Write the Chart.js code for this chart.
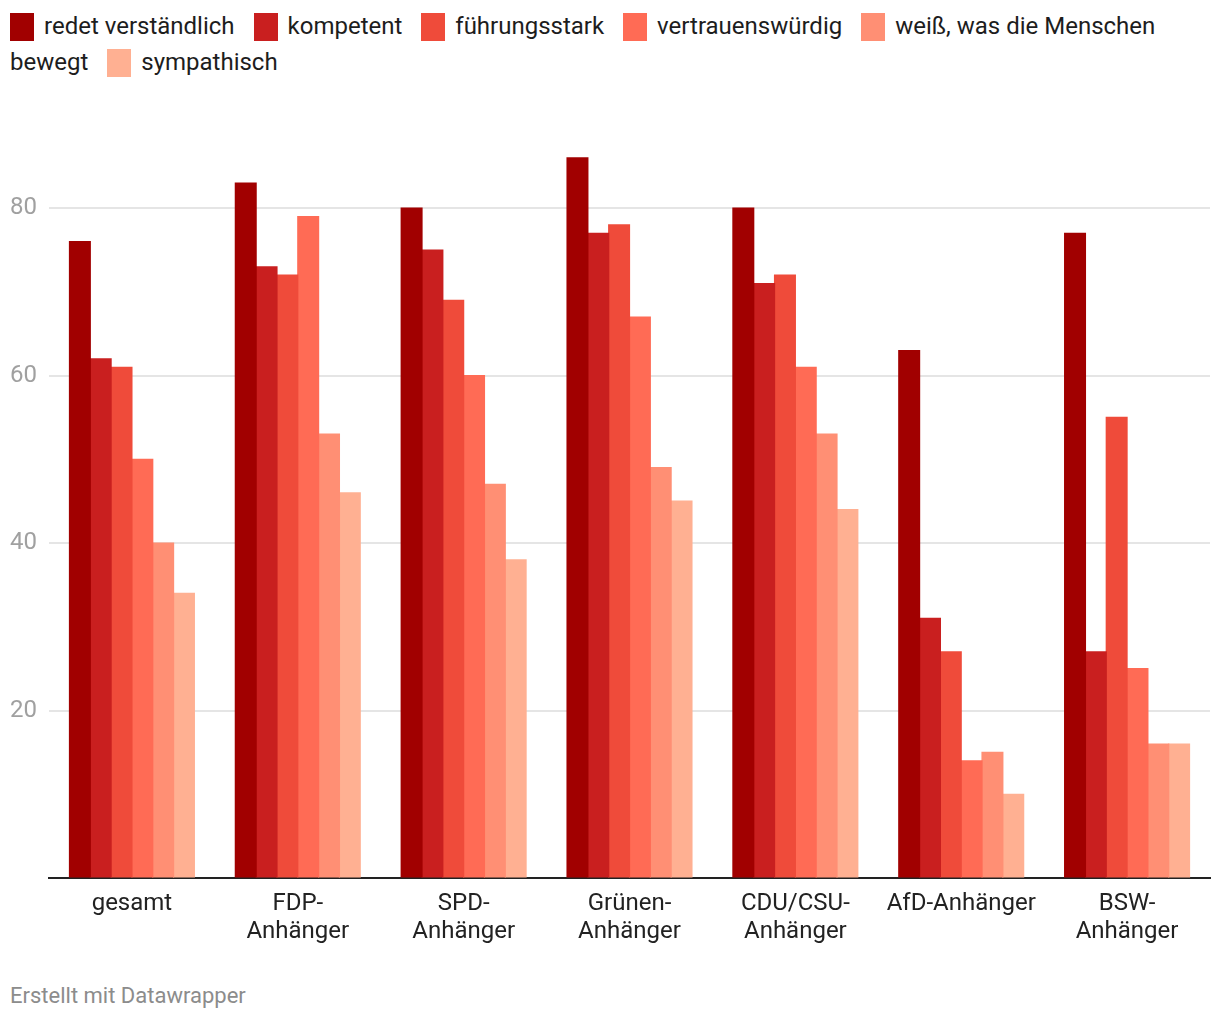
<!DOCTYPE html>
<html><head><meta charset="utf-8">
<script src="https://cdn.jsdelivr.net/npm/chart.js@4"></script>
<style>
html,body{margin:0;padding:0;background:#fff;font-family:Roboto,sans-serif;}
#legend{position:absolute;left:10px;top:8px;width:1200px;font-size:24px;line-height:36px;color:#1d1d1d;}
#legend .it{margin-right:13px;}
#legend .sw{display:inline-block;width:24px;height:28px;vertical-align:-7px;margin-right:10px;}
#wrap{position:absolute;left:0;top:110px;width:1220px;height:860px;}
#foot{position:absolute;left:10px;top:983px;font-size:22px;color:#8c8c8c;}
</style></head><body>
<div id="legend"></div>
<div id="wrap"><canvas id="c"></canvas></div>
<div id="foot">Erstellt mit Datawrapper</div>
<script>
const categories = [["gesamt"],["FDP-","Anhänger"],["SPD-","Anhänger"],["Grünen-","Anhänger"],["CDU/CSU-","Anhänger"],["AfD-Anhänger"],["BSW-","Anhänger"]];
const seriesNames = ["redet verständlich","kompetent","führungsstark","vertrauenswürdig","weiß, was die Menschen bewegt","sympathisch"];
const redetVerstaendlich = [76,83,80,86,80,63,77];
const kompetent = [62,73,75,77,71,31,27];
const fuehrungsstark = [61,72,69,78,72,27,55];
const vertrauenswuerdig = [50,79,60,67,61,14,25];
const weissWasBewegt = [40,53,47,49,53,15,16];
const sympathisch = [34,46,38,45,44,10,16];
const yTicks = [0,20,40,60,80];
const colors = ["#a10000","#c91f1f","#ef4b3a","#ff6b55","#ff8f74","#ffb092"];
const seriesData = [redetVerstaendlich,kompetent,fuehrungsstark,vertrauenswuerdig,weissWasBewegt,sympathisch];

const leg = document.getElementById('legend');
seriesNames.forEach((n,i)=>{
  const s=document.createElement('span');s.className='it';
  s.innerHTML='<span class="sw" style="background:'+colors[i]+'"></span>'+n;
  leg.appendChild(s); leg.appendChild(document.createTextNode(' '));
});

new Chart(document.getElementById('c'),{
  type:'bar',
  data:{labels:categories,datasets:seriesNames.map((n,i)=>({label:n,data:seriesData[i],backgroundColor:colors[i],borderWidth:0,inflateAmount:0.6,categoryPercentage:0.753,barPercentage:1}))},
  options:{
    responsive:true,maintainAspectRatio:false,animation:false,
    layout:{padding:{top:13,left:10,right:10,bottom:0}},
    plugins:{legend:{display:false},tooltip:{enabled:false}},
    scales:{
      x:{grid:{display:false},border:{display:true,color:'#222',width:2},
         ticks:{color:'#222',font:{family:'Roboto',size:24,lineHeight:1.17},padding:4,maxRotation:0,autoSkip:false},
         afterFit:s=>{s.height=92;}},
      y:{min:0,max:90,
         afterBuildTicks:s=>{s.ticks=yTicks.map(v=>({value:v}));},
         afterFit:s=>{s.width=39;},
         grid:{color:'#e5e5e5',lineWidth:2,drawTicks:false},border:{display:false},
         ticks:{crossAlign:'far',padding:0,color:'#a0a0a0',font:{family:'Roboto',size:24},callback:v=>v===0?'':v}}
    }
  }
});
</script>
</body></html>
